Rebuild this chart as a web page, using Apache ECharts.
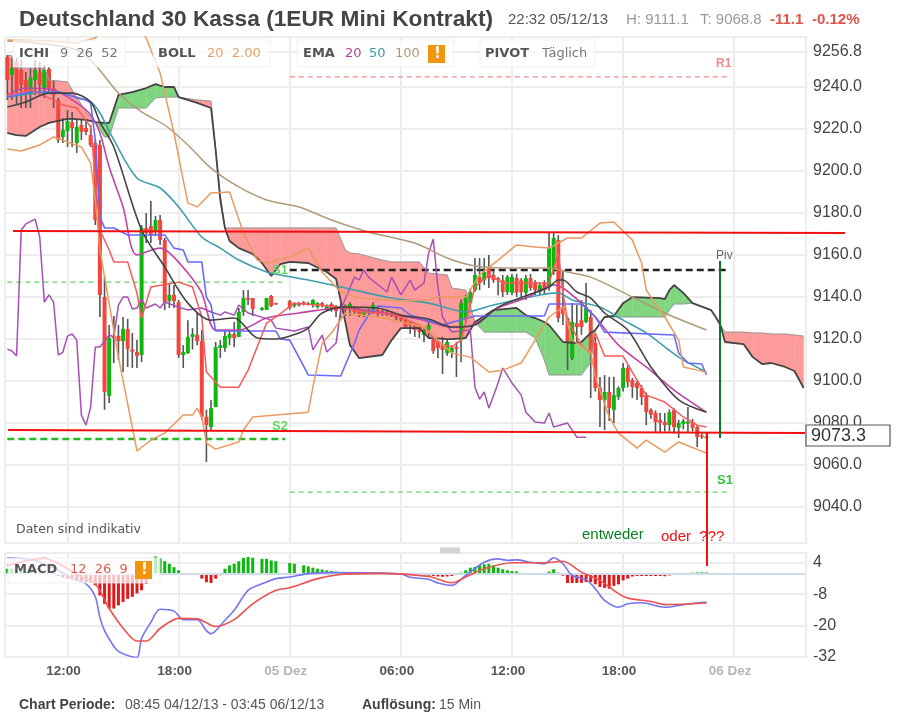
<!DOCTYPE html>
<html>
<head>
<meta charset="utf-8">
<title>Deutschland 30 Kassa</title>
<script src="https://cdn.jsdelivr.net/npm/echarts@6/dist/echarts.min.js"></script>
<style>
html,body{margin:0;padding:0;background:#fff}
#main,#notes{position:absolute;left:0;top:0;width:900px;height:721px}
#main{filter:blur(0.55px)}
</style>
</head>
<body>
<div id="main"></div>
<div id="notes"></div>
<script>
// 15 min bars, first one 08:45 on 04.12
var barTimes = [];
for (var b = 0; b < 173; b++) {
	var mins = 8 * 60 + 45 + b * 15, h = Math.floor(mins / 60) % 24, m = mins % 60;
	var lab = (h < 10 ? '0' : '') + h + ':' + (m < 10 ? '0' : '') + m;
	if (lab == '00:00') lab = mins < 24 * 60 * 1.5 ? '05 Dez' : '06 Dez';
	barTimes.push(lab);
}
var priceTicks = [9040, 9060, 9080, 9100, 9120, 9140, 9160, 9180, 9200, 9220, 9240, 9256.8];
var macdTicks = [4, -8, -20, -32];

// open, close, low, high per bar (null = no trade)
var candles = [
[9254.3,9243.3,9233.8,9255.2],[9245.7,9249,9233.8,9253.8],[9251.9,9238.6,9231.4,9253.8],[9248.1,9241,9230,9252.9],
[9243.3,9237.6,9230,9247.1],[9237.6,9244.3,9230,9249],[9243.3,9248.1,9236.2,9252.9],[9247.1,9241,9236.2,9251.9],
[9239.5,9248.1,9234.8,9250.5],[9248.6,9239.5,9237.6,9249.5],[9239.5,9236.2,9230,9243.3],[9233.8,9214.8,9213.3,9234.8],
[9216.2,9219.5,9213.3,9225.2],[9219,9223.8,9211.4,9229],[9223.3,9220.5,9211.4,9228.1],[9213.3,9221,9208.6,9224.3],
[9221.9,9218.6,9214.8,9224.3],[9220.5,9218.6,9217.1,9224.3],[9217.1,9212.4,9211.4,9221.9],[9213.3,9176.7,9174.3,9214.8],
[9212.4,9141,9130.5,9214.8],[9140,9094.8,9086.3,9149.6],[9092.9,9120.5,9089.6,9126.7],[9121.5,9120.5,9108.6,9131],
[9121.5,9119,9110,9126.7],[9119,9124.8,9104.3,9130.5],[9124.8,9115.3,9106.7,9129.6],[9115,9114,9106.2,9122.9],
[9113.8,9112,9106.2,9119.5],[9112.4,9172.9,9109,9174.3],[9172.9,9170.5,9165.7,9180],[9173.8,9169.5,9165.7,9185.7],
[9171,9176.7,9169,9178.6],[9176.7,9167.1,9164.8,9179],[9167.1,9137.6,9133.8,9168.1],[9138.1,9141,9134.8,9146.7],
[9141,9138.1,9134.8,9145.7],[9137.6,9112.4,9111,9138.6],[9112.4,9113.8,9106.2,9117.1],[9113.3,9121,9112.9,9129],
[9121,9122.4,9115,9125.2],[9122,9119,9117,9132.9],[9119,9083,9081.5,9124.3],[9083,9079,9061.5,9086.3],
[9078.1,9087.1,9076.7,9091],[9087.6,9116.2,9087.6,9118.6],[9115.8,9117.1,9111,9119.5],[9115.8,9121.4,9113.9,9124.3],
[9120.5,9122.4,9117.1,9124.3],[9122.4,9120.5,9116.2,9128.1],[9121,9132.9,9121,9134.8],[9132.9,9139.5,9131,9143.3],
[9139.5,9138.6,9136.2,9143.3],[9139.5,9134.3,9131,9139.5],null,[9133.9,9134.8,9133.5,9135.2],
[9133.9,9139.5,9133.9,9139.5],[9140.5,9135.7,9135.2,9141],[9137.1,9136.7,9136.5,9137.3],null,
null,[9138.1,9134.8,9134,9138.6],[9135.7,9137.1,9135,9137.6],[9137.1,9136.2,9135.5,9137.6],[9137.6,9136.7,9136,9138],
[9136.7,9137,9136,9137.6],[9136.2,9138.6,9135,9139],[9135.2,9137.1,9134.5,9137.6],[9137.1,9135.7,9135,9137.6],
[9134.3,9135.7,9133.5,9136.5],[9136.7,9134.8,9133,9137.5],[9135.7,9133.3,9130.5,9136.2],[9134.8,9134.5,9130,9137],
[9135.7,9133.9,9131,9136.5],[9133.9,9136.7,9131,9137.5],[9134.8,9132.9,9132,9135.5],[9133.8,9131,9130.5,9134.5],
[9131.4,9133.3,9130.5,9134],[9133.8,9132.4,9132,9134.5],[9132.9,9136.2,9132,9137.5],[9133.8,9131.9,9131,9134.5],
[9133.3,9131.9,9131,9134],[9132.5,9132.2,9131,9133.5],[9132.4,9131,9130.5,9133],[9131.4,9130,9129,9132],
[9130,9129,9128,9130.5],[9129,9125.7,9125,9130],[9128,9126.7,9122.5,9128.5],[9126.7,9124.3,9121,9127],
[9125.7,9123.3,9120.5,9126],[9122,9124.3,9118.5,9125],[9124.3,9126.7,9120.5,9129],[9119.5,9114.3,9113,9121],
[9118.6,9115.8,9111,9119.5],[9117.1,9114.8,9103.4,9121],[9113.3,9118.6,9112,9120],[9113.8,9115.8,9111,9117],
[9116.2,9115.3,9101.9,9118.6],[9119.5,9137.1,9109,9139],[9130,9140,9128,9141],[9137.1,9142.4,9135,9144],
[9143.3,9150.5,9142.4,9158.6],[9149.6,9146.7,9143.3,9158.6],[9148,9152,9145.7,9158.6],[9154.3,9149,9144.3,9160],
[9150.5,9148,9146.7,9152.9],[9149,9148,9140.9,9149.5],[9148,9142.4,9140,9150.5],[9142.4,9149.6,9141,9150.5],
[9142,9149.6,9141,9151],[9149,9142,9140,9151],[9148,9142.4,9140,9149],[9142,9149,9138.6,9150.5],
[9149,9144.3,9143,9151],[9147,9143.3,9141,9148],[9142.4,9145.7,9141,9147],[9146.7,9143.3,9141,9148],
[9144.8,9163.3,9143,9171],[9152.9,9168.1,9150.5,9170.5],[9167.1,9130,9128,9169.5],[9135,9132,9126.7,9152.9],
[9130,9118.1,9105.2,9130.5],[9110.9,9128.1,9110,9137.1],[9127.6,9125.7,9118,9136.2],[9129,9125.7,9122,9138.6],
[9128.1,9135.2,9127.5,9146.7],[9130.5,9113.3,9091.9,9133.8],[9118.1,9096.7,9095,9121],[9096.7,9091,9078.1,9101.9],
[9091,9094.8,9076.7,9102.9],[9094.8,9087.1,9081,9102],[9086.3,9093.3,9080,9102],[9092.4,9096.7,9091,9097.5],
[9096.7,9106.2,9095,9108.6],[9106.2,9099.5,9097,9107.5],[9100.5,9097.1,9092,9101.5],[9099,9096.7,9091,9100],
[9096.7,9092.4,9088.6,9098],[9093.3,9085.2,9079,9094.5],[9086.3,9084,9082,9087],[9084.8,9080.5,9075.8,9086],
[9081.5,9080,9075.8,9084.8],[9080.5,9079,9076,9084.8],[9079,9085.2,9076,9086.5],[9086.3,9078.1,9075.2,9087],
[9077.7,9080,9072.9,9081.5],[9079.5,9081,9077,9082],[9079.8,9080.5,9075.8,9087.6],[9080.5,9077.7,9076,9082],
[9078.1,9073.3,9068.6,9079],[9074,9073.8,9072.5,9075],[9073.3,9073.5,9072.9,9075]
];

// ichimoku cloud, bar numbers and both spans
var cloudBars = [0,1,2,4,7,8,9,13,14,17,19,21,22,24,27,30,32,34,36,37,41,44,45,46,47,48,50,53,55,57,59,61,65,69,71,73,74,76,81,83,85,89,91,95,96,99,101,103,105,110,112,114,116,117,120,123,124,126,127,129,131,133,135,141,142,143,144,146,148,152,153,154,155,159,161,163,165,168,170,172];
var senkouA = [9218.1,9217.6,9217.1,9216.7,9221,9221.9,9222.9,9224.8,9224.8,9224.3,9223.3,9222.9,9222.9,9236.2,9237.6,9239.5,9241.4,9240,9240,9235.2,9232.4,9230,9210,9186.2,9172.9,9166.7,9163.3,9160.5,9156.2,9150,9155.7,9156.7,9156.2,9151.9,9148.6,9128.1,9117.1,9110.9,9112.4,9119.5,9125.2,9125.2,9120.5,9120,9120,9120.5,9128.1,9131,9133.8,9134.8,9131.4,9130,9128.1,9126.7,9118.6,9118.1,9118.6,9122.9,9124.3,9130.5,9131,9137.1,9140,9139.5,9139,9143.3,9145.7,9142,9137.1,9133.8,9130.5,9126.7,9118.6,9117.6,9111.4,9108.1,9108.6,9106.7,9104.8,9096.7];
var senkouB = [9255.2,9254.8,9249,9249,9249,9249,9243.3,9242.4,9238.6,9228.1,9223.3,9216.2,9216.2,9230,9230,9230,9234.8,9235.2,9235.2,9235.2,9233.8,9233.3,9210,9188.6,9172.9,9172.9,9172.9,9172.9,9172.9,9172.9,9172.9,9172.9,9172.9,9172.9,9172.9,9162.4,9161,9160.5,9157.6,9156.7,9156.7,9156.7,9151.4,9150.5,9144.3,9143.3,9128.1,9123.3,9123.3,9123.3,9123.3,9120.5,9110,9102.9,9102.9,9102.9,9102.9,9109,9124.3,9130.5,9130.5,9130.5,9130.5,9130.5,9130.5,9133.8,9136.7,9136.7,9137.1,9133.8,9130.5,9126.7,9123.3,9123.3,9122.9,9122.9,9122.4,9122.4,9121.9,9121.4];

// the other lines as [bar, value]
var ema100 = [[0,9261.9],[6,9261],[15,9257.6],[19,9250.5],[24,9237.1],[29,9228.1],[34,9221.9],[39,9212.4],[44,9201.4],[50,9192.4],[56,9186.2],[63,9182.9],[70,9176.7],[78,9171],[88,9165.7],[95,9158.6],[101,9154.8],[109,9153.8],[117,9153.8],[121,9151.9],[126,9149.5],[132,9143.3],[142,9132.4],[151,9124.3]];
var ema50 = [[0,9235.2],[6,9237.1],[11,9237.6],[15,9234.8],[18,9232.9],[20,9227.6],[23,9214.8],[28,9196.7],[33,9191.9],[37,9182.9],[42,9168.6],[46,9163.3],[50,9157.6],[56,9151.9],[59,9150.5],[65,9148.1],[73,9144.3],[83,9139.5],[91,9137.1],[95,9134.8],[99,9132.9],[105,9136.2],[115,9141],[119,9142],[122,9138.6],[128,9135.2],[133,9129],[138,9122.9],[145,9111.4],[151,9104.3]];
var ema20 = [[0,9236.2],[4,9239.5],[10,9238.6],[15,9232.4],[18,9226.7],[20,9218.1],[22,9201.9],[25,9182.9],[28,9160],[33,9163.3],[35,9161],[39,9151.4],[42,9141.9],[45,9124.3],[50,9124.3],[56,9130],[63,9132.4],[72,9134.8],[80,9132.9],[90,9129],[96,9125.7],[99,9125.7],[106,9134.8],[112,9139.5],[118,9145.7],[120,9144.3],[124,9137.1],[127,9130.5],[132,9117.1],[138,9106.7],[144,9095.7],[151,9085.2]];
var bollMid = [[0,9230.5],[4,9232.9],[9,9237.1],[14,9237.1],[18,9232.9],[20,9223.3],[23,9211.4],[29,9171.9],[34,9154.3],[39,9137.1],[44,9129],[49,9130],[54,9120.5],[58,9120],[63,9122.9],[65,9125.2],[68,9132.4],[73,9135.2],[80,9134.8],[85,9131.4],[91,9129.5],[96,9125.7],[101,9126.7],[106,9135.2],[117,9144.8],[119,9148.1],[120,9148.1],[123,9142.4],[126,9139.5],[129,9132.4],[134,9124.3],[139,9106.7],[145,9091],[151,9085.2]];
var kijun = [[0,9235.2],[5,9237.6],[11,9237.6],[17,9233.8],[18,9232.4],[19,9214.8],[20,9178.1],[21,9172.9],[23,9172.9],[26,9169.5],[34,9169.5],[36,9163.3],[38,9162.4],[39,9156.7],[42,9156.7],[43,9140],[44,9136.2],[45,9123.8],[58,9123.8],[59,9120],[61,9119.5],[65,9102.9],[72,9102.4],[75,9118.1],[76,9124.3],[78,9131.4],[80,9135.7],[85,9134.8],[87,9131.4],[94,9126.7],[101,9131],[116,9131],[117,9136.7],[124,9136.7],[127,9130.5],[129,9123.3],[144,9121.9],[145,9113.3],[147,9108.6],[150,9108.1],[151,9102.9]];
var tenkan = [[0,9236.2],[5,9238.6],[10,9233.8],[12,9231.4],[15,9230],[18,9221],[20,9171.9],[22,9162.4],[23,9156.7],[26,9156.7],[28,9141.9],[29,9130],[31,9144.8],[37,9147.1],[40,9144.8],[42,9130.5],[43,9104.3],[46,9097.1],[50,9097.1],[52,9105.2],[56,9127.6],[58,9130.5],[62,9137.1],[72,9135.2],[77,9132.9],[84,9131.4],[90,9125.7],[93,9118.1],[96,9116.2],[98,9119.5],[101,9144.8],[104,9150.5],[107,9146.7],[117,9146.7],[119,9161],[120,9141.9],[121,9129],[124,9117.1],[126,9113.3],[127,9122.9],[129,9111.9],[133,9111.9],[136,9100.5],[138,9093.3],[142,9090],[146,9082.9],[149,9079],[151,9078.1]];
var chikou = [[0,9115.2],[1,9114.3],[2,9111.9],[3,9171.9],[4,9174.8],[6,9177.1],[7,9168.6],[8,9137.6],[9,9141],[10,9137.6],[11,9112.4],[12,9113.8],[13,9121.4],[14,9122.4],[15,9119.5],[16,9083.8],[17,9079],[18,9087.6],[19,9116.2],[20,9116.2],[22,9121.9],[23,9121],[24,9136.2],[25,9140],[26,9140],[27,9134.3],[28,9134.8],[29,9139],[30,9134.8],[32,9136.7],[33,9134.8],[34,9137.6],[37,9135.2],[39,9133.8],[42,9134.8],[44,9132.9],[46,9131.4],[47,9132.9],[49,9131.4],[50,9136.2],[52,9132.4],[57,9129],[58,9125.2],[62,9123.8],[65,9125.7],[66,9114.8],[68,9121.9],[69,9113.8],[71,9118.1],[72,9133.8],[75,9149.5],[76,9148.1],[77,9152.9],[78,9149.5],[82,9142.4],[83,9149.5],[85,9141],[87,9148.1],[88,9143.3],[90,9146.7],[91,9161],[92,9167.6],[93,9144.8],[94,9130.5],[96,9123.3],[100,9124.3],[101,9097.1],[102,9091.4],[103,9094.8],[104,9087.1],[106,9099.1],[107,9106.2],[109,9099.1],[111,9093.3],[112,9085.2],[114,9080.5],[116,9080],[117,9084.8],[118,9078.1],[121,9080],[123,9073.3],[125,9073.3]];
var bollUp = [[0,9262.4],[9,9261.9],[15,9261],[19,9263.3],[22,9272],[27,9272],[30,9263.3],[33,9246.7],[36,9218.1],[38,9195.7],[39,9184.8],[41,9182.9],[44,9189.5],[48,9190],[51,9170.5],[54,9157.6],[56,9156.2],[61,9159],[65,9163.3],[68,9151.9],[72,9142.4],[76,9139.5],[84,9138.1],[91,9138.6],[93,9140],[99,9140],[102,9150.5],[106,9157.6],[110,9164.8],[114,9163.8],[117,9163.3],[121,9168.1],[124,9168.1],[128,9175.2],[131,9175.7],[135,9167.1],[137,9156.2],[138,9143.3],[142,9130.5],[145,9119.5],[146,9106.7],[149,9105.2],[151,9104.3]];
var bollDn = [[0,9210.5],[3,9209.5],[7,9212.4],[10,9216.2],[13,9213.8],[16,9211.4],[17,9207.6],[18,9203.8],[19,9186.2],[20,9162.4],[24,9111.4],[28,9066.7],[31,9071.9],[34,9075.2],[38,9083.8],[40,9083.8],[41,9087.1],[42,9082.9],[43,9070.5],[45,9067.6],[50,9071],[51,9076.7],[53,9082.9],[58,9083.8],[65,9085.2],[66,9097.1],[68,9118.1],[70,9122.9],[73,9132.4],[80,9130.5],[85,9128.1],[90,9125.7],[93,9119.5],[96,9113.3],[100,9111.4],[104,9104.3],[107,9105.2],[111,9108.6],[114,9119.5],[117,9130.5],[120,9135.2],[122,9119.5],[126,9113.8],[127,9101.9],[130,9082.9],[132,9075.2],[136,9068.1],[138,9071.9],[142,9066.2],[145,9071],[151,9065.7]];

// daily pivots: name, first bar, last bar, value
var pivotNames = ['R1', 'S1', 'S2', 'Piv', 'S1'];
var pivotFrom = [61, 0, 0, 61, 61];
var pivotTo = [156, 60, 60, 156, 156];
var pivotValues = [9244.8, 9147.1, 9072.4, 9152.9, 9047.1];

var macdHist = [1.8,1.8,1.5,1,0.8,0.6,0.4,0.2,0.1,-0.1,-0.4,-1,-1.5,-2,-2.4,-2.8,-3.1,-3.4,-3.6,-4.6,-8.5,-11.7,-13.5,-13.5,-12.3,-11,-9.8,-9,-7.7,-6.5,-4,-1,6.5,5.8,4.7,3.7,2.4,1.2,-0.2,-0.3,-0.2,-0.3,-2,-3.4,-3.7,-2,-0.7,1.8,3.1,3.7,4.7,6,6.3,6,0,5.6,5.6,5,4.7,0,0,4,3.7,0,3.1,2.7,2.2,1.8,1.5,1.2,0.9,0.7,0.5,0.5,0.4,0.4,0.3,0.2,0.2,0.1,0,0,0,-0.1,-0.2,-0.4,-0.6,-0.7,-0.8,-0.8,-0.9,-0.9,-1,-1.2,-1.3,-1.2,-1,-0.4,0.3,1.2,2.2,2.5,3.1,3.5,3.7,3.1,2.2,1.6,1.2,0.9,0.8,0.2,-0.1,-0.1,-0.2,-0.3,-0.2,0.7,1.6,0.3,-0.9,-3.7,-3.7,-3.7,-3.6,-3.3,-3.3,-4.2,-5.2,-5.6,-5.9,-4.8,-4.2,-2.7,-2,-1.2,-1,-1,-1,-1,-1,-1,-1.1,-0.8,-0.5,-0.2,0.1,0.2,0.3,0.4,0.4,0.4];
var macdLine = [[0,6],[6,5],[11,1.2],[14,-2],[17,-4],[19,-9],[20,-17],[21,-22],[23,-28],[24,-30],[26,-31.6],[28,-32.4],[29,-25],[31,-18.8],[33,-13.8],[36,-14.5],[38,-17.8],[41,-17.8],[43,-22],[44,-23.2],[47,-18],[49,-14.2],[52,-6.5],[55,-4],[58,-2],[61,-1.4],[65,-0.1],[70,0.3],[85,-0.2],[87,-1.5],[91,-2.3],[93,-3.7],[96,-4.6],[97,-3.8],[99,-0.8],[103,4.3],[106,5.6],[108,5],[110,5.2],[113,4.3],[116,3.7],[118,6],[120,3.7],[122,-0.8],[125,-2.4],[127,-5.9],[129,-10.4],[132,-13],[134,-11.7],[137,-11.3],[142,-13],[146,-12],[151,-11]];
var macdSignal = [[0,3],[8,5.8],[11,3.8],[16,-1.4],[19,-4],[22,-13.5],[25,-21],[28,-26],[30,-26],[33,-21.2],[37,-17.3],[41,-17.5],[45,-20.4],[49,-17.8],[53,-11.7],[58,-6.5],[61,-5.5],[67,-2],[72,-0.4],[81,0],[91,-1.2],[96,-3.6],[99,-1.4],[103,1.8],[109,4.1],[116,4.1],[120,4.7],[124,0.5],[128,-2.7],[132,-7.8],[134,-9.5],[139,-10.8],[142,-12],[151,-11.4]];

var BASE = 'Liberation Sans, Arial, sans-serif';
var LEG = 'DejaVu Sans, sans-serif';
var GRID = '#ededed';

var chart = echarts.init(document.getElementById('main'));
var notes = echarts.init(document.getElementById('notes'));

function lineSeries(name, data, color, width, smooth, axis) {
	return {
		name: name, type: 'line', data: data, symbol: 'none', smooth: smooth || false,
		xAxisIndex: axis || 0, yAxisIndex: axis || 0,
		lineStyle: {color: color, width: width}, z: 5, animation: false, silent: true
	};
}

function drawCloud(params, api) {
	var a1 = api.value(1), b1 = api.value(2), a2 = api.value(4), b2 = api.value(5);
	var i1 = api.value(0), i2 = api.value(3);
	var up = a1 + a2 > b1 + b2;
	return {
		type: 'polygon',
		shape: {points: [api.coord([i1, a1]), api.coord([i2, a2]), api.coord([i2, b2]), api.coord([i1, b1])]},
		style: {fill: up ? '#7fd67f' : '#fd9a9a', stroke: up ? '#7fd67f' : '#fd9a9a', lineWidth: 0.4}
	};
}

function drawCandle(params, api) {
	var i = api.value(0), o = api.value(1), c = api.value(2), lo = api.value(3), hi = api.value(4);
	var top = api.coord([i, Math.max(o, c)]), bot = api.coord([i, Math.min(o, c)]);
	var wTop = api.coord([i, hi]), wBot = api.coord([i, lo]);
	var w = 4, h = Math.max(bot[1] - top[1], 1.5);
	return {
		type: 'group',
		children: [
			{type: 'line', shape: {x1: wTop[0], y1: wTop[1], x2: wBot[0], y2: wBot[1]}, style: {stroke: '#555', lineWidth: 1.6}},
			{type: 'rect', shape: {x: top[0] - w / 2, y: top[1], width: w, height: h}, style: {fill: c >= o ? '#0db70d' : '#f2453d'}}
		]
	};
}

var cloudData = [];
for (var k = 0; k < cloudBars.length - 1; k++) {
	cloudData.push([cloudBars[k], senkouA[k], senkouB[k], cloudBars[k + 1], senkouA[k + 1], senkouB[k + 1]]);
}
var candleData = [];
candles.forEach(function (d, i) { if (d) candleData.push([i, d[0], d[1], d[2], d[3]]); });

var spanA = cloudBars.map(function (b, k) { return [b, senkouA[k]]; });
var spanB = cloudBars.map(function (b, k) { return [b, senkouB[k]]; });

var pivotColors = ['#f08a8a', '#5fd85f', '#22bb22', '#222222', '#5fd85f'];
var pivotWidths = [1.4, 1.4, 2.6, 2.6, 1.4];
var pivotSeries = pivotNames.map(function (n, k) {
	var s = lineSeries(n, [[pivotFrom[k], pivotValues[k]], [pivotTo[k], pivotValues[k]]], pivotColors[k], pivotWidths[k]);
	s.lineStyle.type = pivotWidths[k] > 2 ? [7, 4] : [5, 4];
	s.z = 3;
	return s;
});

var tickBars = function (i, v) { return v == '12:00' || v == '18:00' || v == '06:00' || v.indexOf('Dez') > 0; };

function xAxisFor(idx, labels) {
	return {
		type: 'category', gridIndex: idx, data: barTimes, boundaryGap: true,
		axisLine: {show: false}, axisTick: {show: false},
		splitLine: {show: true, alignWithLabel: true, interval: tickBars, lineStyle: {color: GRID, width: 2}},
		axisLabel: {
			show: labels, interval: tickBars, margin: 7, fontSize: 13.5, fontFamily: BASE, padding: [0, 8, 0, 0],
			color: function (v) { return v.indexOf('Dez') > 0 ? '#b5b5b5' : '#555'; },
			fontWeight: 'bold'
		}
	};
}
function yAxisFor(idx, min, max, ticks, fmt) {
	return {
		type: 'value', gridIndex: idx, position: 'right', min: min, max: max, scale: true,
		axisLine: {show: false},
		axisTick: {show: false, customValues: ticks},
		splitLine: {show: true, lineStyle: {color: GRID, width: 2}},
		axisLabel: {customValues: ticks, formatter: fmt, color: '#444', fontSize: 16, fontFamily: BASE, margin: 7}
	};
}

function txt(x, y, s, fill, font) {
	return {type: 'text', z: 130, silent: true, style: {x: x, y: y, text: s, fill: fill, font: font, textVerticalAlign: 'middle'}};
}
function box(x, y, w, h) {
	return {type: 'rect', z: 100, silent: true, shape: {x: x, y: y, width: w, height: h}, style: {fill: 'rgba(255,255,255,0.72)', stroke: 'rgba(235,235,235,0.7)', lineWidth: 1}};
}
function warn(x, y) {
	return [
		{type: 'rect', z: 105, silent: true, shape: {x: x, y: y, width: 17, height: 18}, style: {fill: '#f0950c'}},
		txt(x + 6, y + 9.5, '!', '#fff', 'bold 15px ' + LEG)
	];
}
function stroke(x1, y1, x2, y2, color, w) {
	return {type: 'line', z: 120, silent: true, shape: {x1: x1, y1: y1, x2: x2, y2: y2}, style: {stroke: color, lineWidth: w}};
}

var hdr = '15px ' + BASE;
var leg = '13px ' + LEG, legB = 'bold 13px ' + LEG;
var graphics = [
	txt(19, 20, 'Deutschland 30 Kassa (1EUR Mini Kontrakt)', '#444', 'bold 22.7px ' + BASE),
	txt(508, 20, '22:32 05/12/13', '#555', hdr),
	txt(626, 20, 'H: 9111.1', '#999', hdr),
	txt(700, 20, 'T: 9068.8', '#999', hdr),
	txt(770, 20, '-11.1', '#e0554a', 'bold 15px ' + BASE),
	txt(812, 20, '-0.12%', '#e0554a', 'bold 15px ' + BASE),

	box(13, 40, 112, 27),
	txt(19, 54, 'ICHI', '#555', legB),
	txt(60, 54, '9  26  52', '#777', leg),
	box(153, 40, 117, 27),
	txt(158, 54, 'BOLL', '#555', legB),
	txt(207, 54, '20  2.00', '#e8a06a', leg),
	box(297, 40, 157, 27),
	txt(303, 54, 'EMA', '#555', legB),
	txt(345, 54, '20', '#b0409a', leg),
	txt(369, 54, '50', '#3a9aa8', leg),
	txt(395, 54, '100', '#b09870', leg),
	box(480, 40, 115, 27),
	txt(485, 54, 'PIVOT', '#555', legB),
	txt(542, 54, 'Täglich', '#777', leg),
	box(8, 558, 152, 25),
	txt(14, 570, 'MACD', '#555', legB),
	txt(70, 570, '12  26  9', '#e05a50', leg),

	txt(16, 530, 'Daten sind indikativ', '#555', '12.5px ' + LEG),
	txt(716, 64, 'R1', '#f08a8a', 'bold 12px ' + BASE),
	txt(272, 270, 'S1', '#5fd85f', 'bold 13px ' + BASE),
	txt(272, 426, 'S2', '#5fd85f', 'bold 13px ' + BASE),
	txt(716, 256, 'Piv', '#666', '12px ' + BASE),
	txt(717, 480, 'S1', '#34c534', 'bold 13px ' + BASE),

	{type: 'rect', z: 100, silent: true, shape: {x: 440, y: 547.5, width: 20, height: 6}, style: {fill: '#d4d4d4'}},

	{type: 'rect', z: 115, silent: true, shape: {x: 806, y: 425, width: 84, height: 21}, style: {fill: '#fff', stroke: '#555', lineWidth: 1.2}},
	txt(811, 436, '9073.3', '#333', '18px ' + BASE),

	txt(19, 705, 'Chart Periode:', '#444', 'bold 14px ' + BASE),
	txt(125, 705, '08:45 04/12/13 - 03:45 06/12/13', '#555', '14px ' + BASE),
	txt(362, 705, 'Auflösung:', '#444', 'bold 14px ' + BASE),
	txt(439, 705, '15 Min', '#555', '14px ' + BASE)
].concat(warn(428, 45), warn(135, 561));

// hand drawn notes on top of the picture, these stay sharp
var handNotes = [
	stroke(13, 231, 845, 233, '#f01010', 2),
	stroke(8, 430, 805, 433, '#f01010', 2),
	stroke(720, 261, 720, 438, '#0a7a2a', 2),
	stroke(707, 433, 707, 566, '#f01010', 2),
	txt(582, 535, 'entweder', '#0a7d1e', '15px ' + BASE),
	txt(661, 537, 'oder  ???', '#f01010', '15px ' + BASE)
];

var option = {
	animation: false,
	backgroundColor: '#fff',
	grid: [
		{left: 5, top: 37, width: 801, height: 506, show: true, borderColor: GRID, borderWidth: 2, containLabel: false},
		{left: 5, top: 553, width: 801, height: 104, show: true, borderColor: GRID, borderWidth: 2, containLabel: false}
	],
	xAxis: [xAxisFor(0, false), xAxisFor(1, true)],
	yAxis: [
		yAxisFor(0, 9022.9, 9263.8, priceTicks, function (v) { return v.toFixed(1); }),
		yAxisFor(1, -32.15, 7.85, macdTicks, function (v) { return v; })
	],
	graphic: graphics,
	series: [
		{type: 'custom', renderItem: drawCloud, data: cloudData, encode: {x: [0, 3], y: [1, 2, 4, 5]}, z: 1, clip: true, silent: true},
		lineSeries('Span B', spanB, '#999', 1),
		lineSeries('Span A', spanA, '#444', 1.8),
		{type: 'custom', renderItem: drawCandle, data: candleData, encode: {x: 0, y: [1, 2, 3, 4]}, z: 4, clip: true, silent: true},
		lineSeries('Chikou', chikou, '#a450b4', 1.5),
		lineSeries('EMA 100', ema100, '#b09a78', 1.5, 0.3),
		lineSeries('EMA 50', ema50, '#3f9dac', 1.6, 0.3),
		lineSeries('EMA 20', ema20, '#c044a4', 1.6, 0.3),
		lineSeries('Kijun', kijun, '#6a6af8', 1.6),
		lineSeries('Tenkan', tenkan, '#f85a5a', 1.5),
		lineSeries('Boll oben', bollUp, '#e99a5e', 1.5),
		lineSeries('Boll unten', bollDn, '#e99a5e', 1.5),
		lineSeries('Boll Mitte', bollMid, '#444', 1.6, 0.3),
		{
			name: 'Histogramm', type: 'bar', xAxisIndex: 1, yAxisIndex: 1, barWidth: 3, z: 3, silent: true,
			data: macdHist.map(function (v) { return {value: v, itemStyle: {color: v >= 0 ? '#0db70d' : '#e01818'}}; }),
			markLine: {symbol: 'none', silent: true, label: {show: false}, lineStyle: {color: '#cfdde8', width: 2, type: 'solid'}, data: [{yAxis: 0}]}
		},
		lineSeries('MACD', macdLine, '#7474f0', 1.6, 0.3, 1),
		lineSeries('Signal', macdSignal, '#ee5050', 1.6, 0.3, 1)
	].concat(pivotSeries)
};
chart.setOption(option);
notes.setOption({animation: false, graphic: handNotes});
</script>
</body>
</html>
